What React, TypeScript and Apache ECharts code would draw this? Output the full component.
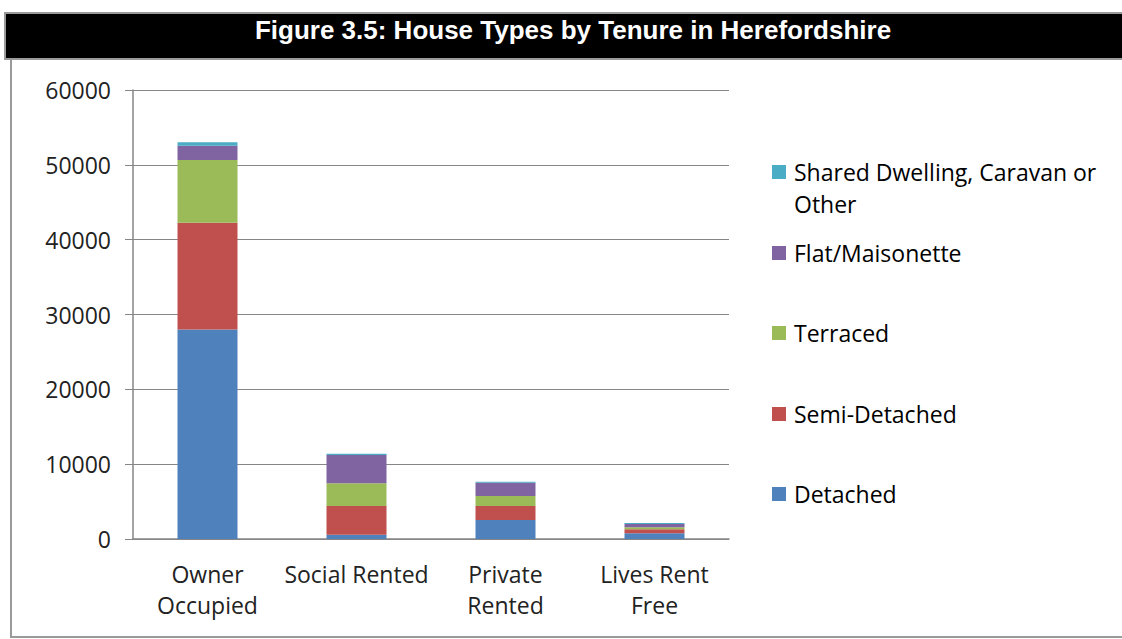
import React, { useEffect, useRef } from "react";
import * as echarts from "echarts";

const categories = ["Owner\nOccupied", "Social Rented", "Private\nRented", "Lives Rent\nFree"];
const detached = [28000, 575, 2540, 760];
const semiDetached = [14270, 3835, 1870, 540];
const terraced = [8380, 3030, 1340, 265];
const flatMaisonette = [1910, 3785, 1780, 445];
const sharedOther = [450, 175, 135, 135];
const seriesNames = ["Detached", "Semi-Detached", "Terraced", "Flat/Maisonette", "Shared Dwelling, Caravan or Other"];
const colors = ["#4F81BD", "#C0504D", "#9BBB59", "#8064A2", "#4BACC6"];
const titleText = "Figure 3.5: House Types by Tenure in Herefordshire";

export default function App() {
  const ref = useRef<HTMLDivElement>(null);
  useEffect(() => {
    if (!ref.current) return;
    const chart = echarts.init(ref.current, null, { renderer: "svg" });
    const font = "Open Sans";
    const fs = 23;
    const values = [detached, semiDetached, terraced, flatMaisonette, sharedOther];
    const legendCenters = [494, 414, 333, 253, 172];
    const legends = seriesNames.map((name, i) => ({
      data: [name],
      left: 772,
      top: legendCenters[i] - (i === 4 ? 48 : 16),
      padding: 0,
      itemWidth: 14,
      itemHeight: 14,
      itemGap: 0,
      icon: "rect",
      selectedMode: false,
      formatter: i === 4 ? " \nShared Dwelling, Caravan or\nOther" : "{name}",
      textStyle: {
        fontFamily: font,
        fontSize: fs,
        color: "#000",
        lineHeight: 32,
        padding: [0, 0, 0, 3],
      },
    }));
    chart.setOption({
      animation: false,
      backgroundColor: "#fff",
      graphic: [
        { type: "rect", shape: { x: 11, y: 59, width: 1120, height: 578 }, style: { fill: "none", stroke: "#9a9a9a", lineWidth: 2 } },
        { type: "rect", shape: { x: 5, y: 13, width: 1125, height: 46 }, style: { fill: "#000", stroke: "#9a9a9a", lineWidth: 2 } },
        {
          type: "text",
          x: 573,
          y: 30,
          style: {
            text: titleText,
            fill: "#fff",
            font: "bold 26px 'Liberation Sans', Arial, sans-serif",
            textAlign: "center",
            textVerticalAlign: "middle",
          },
        },
      ],
      legend: legends,
      grid: { left: 133, right: 393, top: 90, bottom: 100 },
      xAxis: {
        type: "category",
        data: categories,
        axisLine: { lineStyle: { color: "#868686", width: 1.5 } },
        axisTick: { length: 9, lineStyle: { color: "#868686" } },
        axisLabel: { fontFamily: font, fontSize: fs, color: "#222", lineHeight: 31, margin: 19, interval: 0 },
      },
      yAxis: {
        type: "value",
        min: 0,
        max: 60000,
        interval: 10000,
        axisLine: { show: true, lineStyle: { color: "#868686", width: 1.5 } },
        axisTick: { show: true, length: 8, lineStyle: { color: "#868686" } },
        splitLine: { lineStyle: { color: "#868686", width: 1 } },
        axisLabel: { fontFamily: font, fontSize: fs, color: "#222", margin: 22, formatter: (v: number) => String(v) },
      },
      series: seriesNames.map((name, i) => ({
        name,
        type: "bar",
        stack: "total",
        data: values[i],
        barWidth: 60,
        itemStyle: { color: colors[i] },
      })),
    });
    return () => chart.dispose();
  }, []);
  return <div ref={ref} style={{ position: "absolute", left: 0, top: 0, width: 1122, height: 639 }} />;
}
